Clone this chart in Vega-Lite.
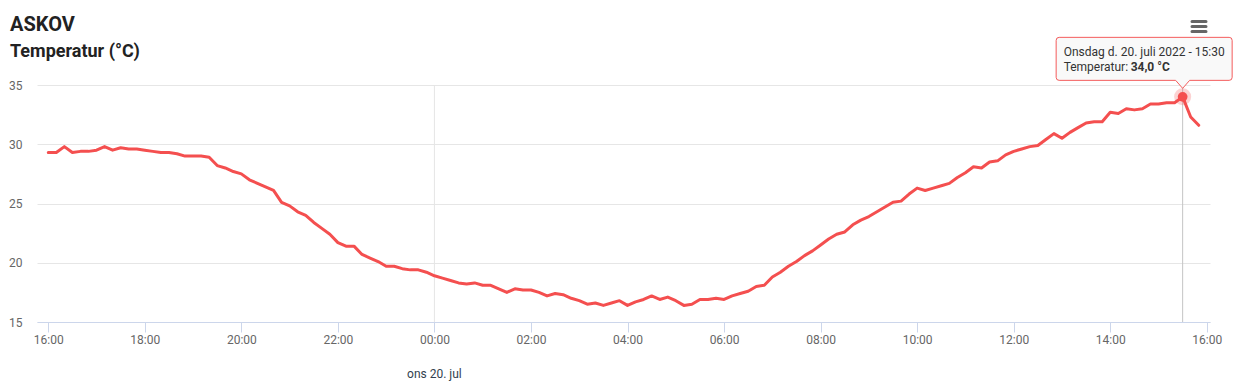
{
  "$schema": "https://vega.github.io/schema/vega-lite/v6.json",
  "width": 1173,
  "height": 237,
  "autosize": {"type": "none"},
  "padding": {"left": 37, "top": 85, "right": 27, "bottom": 67},
  "background": "#ffffff",
  "title": {
    "text": "ASKOV",
    "subtitle": "Temperatur (°C)",
    "anchor": "start",
    "frame": "group",
    "dx": -27,
    "offset": -41,
    "font": "Roboto",
    "fontSize": 20,
    "fontWeight": "bold",
    "color": "#222222",
    "subtitleFont": "Roboto",
    "subtitleFontSize": 18,
    "subtitleFontWeight": "bold",
    "subtitleColor": "#222222",
    "subtitlePadding": 8
  },
  "datasets": {
    "temps": [
      {"t": "2022-07-19T16:00", "temp": 29.3}, {"t": "2022-07-19T16:10", "temp": 29.3}, {"t": "2022-07-19T16:20", "temp": 29.8}, {"t": "2022-07-19T16:30", "temp": 29.3}, {"t": "2022-07-19T16:40", "temp": 29.4}, {"t": "2022-07-19T16:50", "temp": 29.4},
      {"t": "2022-07-19T17:00", "temp": 29.5}, {"t": "2022-07-19T17:10", "temp": 29.8}, {"t": "2022-07-19T17:20", "temp": 29.5}, {"t": "2022-07-19T17:30", "temp": 29.7}, {"t": "2022-07-19T17:40", "temp": 29.6}, {"t": "2022-07-19T17:50", "temp": 29.6},
      {"t": "2022-07-19T18:00", "temp": 29.5}, {"t": "2022-07-19T18:10", "temp": 29.4}, {"t": "2022-07-19T18:20", "temp": 29.3}, {"t": "2022-07-19T18:30", "temp": 29.3}, {"t": "2022-07-19T18:40", "temp": 29.2}, {"t": "2022-07-19T18:50", "temp": 29.0},
      {"t": "2022-07-19T19:00", "temp": 29.0}, {"t": "2022-07-19T19:10", "temp": 29.0}, {"t": "2022-07-19T19:20", "temp": 28.9}, {"t": "2022-07-19T19:30", "temp": 28.2}, {"t": "2022-07-19T19:40", "temp": 28.0}, {"t": "2022-07-19T19:50", "temp": 27.7},
      {"t": "2022-07-19T20:00", "temp": 27.5}, {"t": "2022-07-19T20:10", "temp": 27.0}, {"t": "2022-07-19T20:20", "temp": 26.7}, {"t": "2022-07-19T20:30", "temp": 26.4}, {"t": "2022-07-19T20:40", "temp": 26.1}, {"t": "2022-07-19T20:50", "temp": 25.1},
      {"t": "2022-07-19T21:00", "temp": 24.8}, {"t": "2022-07-19T21:10", "temp": 24.3}, {"t": "2022-07-19T21:20", "temp": 24.0}, {"t": "2022-07-19T21:30", "temp": 23.4}, {"t": "2022-07-19T21:40", "temp": 22.9}, {"t": "2022-07-19T21:50", "temp": 22.4},
      {"t": "2022-07-19T22:00", "temp": 21.7}, {"t": "2022-07-19T22:10", "temp": 21.4}, {"t": "2022-07-19T22:20", "temp": 21.4}, {"t": "2022-07-19T22:30", "temp": 20.7}, {"t": "2022-07-19T22:40", "temp": 20.4}, {"t": "2022-07-19T22:50", "temp": 20.1},
      {"t": "2022-07-19T23:00", "temp": 19.7}, {"t": "2022-07-19T23:10", "temp": 19.7}, {"t": "2022-07-19T23:20", "temp": 19.5}, {"t": "2022-07-19T23:30", "temp": 19.4}, {"t": "2022-07-19T23:40", "temp": 19.4}, {"t": "2022-07-19T23:50", "temp": 19.2},
      {"t": "2022-07-20T00:00", "temp": 18.9}, {"t": "2022-07-20T00:10", "temp": 18.7}, {"t": "2022-07-20T00:20", "temp": 18.5}, {"t": "2022-07-20T00:30", "temp": 18.3}, {"t": "2022-07-20T00:40", "temp": 18.2}, {"t": "2022-07-20T00:50", "temp": 18.3},
      {"t": "2022-07-20T01:00", "temp": 18.1}, {"t": "2022-07-20T01:10", "temp": 18.1}, {"t": "2022-07-20T01:20", "temp": 17.8}, {"t": "2022-07-20T01:30", "temp": 17.5}, {"t": "2022-07-20T01:40", "temp": 17.8}, {"t": "2022-07-20T01:50", "temp": 17.7},
      {"t": "2022-07-20T02:00", "temp": 17.7}, {"t": "2022-07-20T02:10", "temp": 17.5}, {"t": "2022-07-20T02:20", "temp": 17.2}, {"t": "2022-07-20T02:30", "temp": 17.4}, {"t": "2022-07-20T02:40", "temp": 17.3}, {"t": "2022-07-20T02:50", "temp": 17.0},
      {"t": "2022-07-20T03:00", "temp": 16.8}, {"t": "2022-07-20T03:10", "temp": 16.5}, {"t": "2022-07-20T03:20", "temp": 16.6}, {"t": "2022-07-20T03:30", "temp": 16.4}, {"t": "2022-07-20T03:40", "temp": 16.6}, {"t": "2022-07-20T03:50", "temp": 16.8},
      {"t": "2022-07-20T04:00", "temp": 16.4}, {"t": "2022-07-20T04:10", "temp": 16.7}, {"t": "2022-07-20T04:20", "temp": 16.9}, {"t": "2022-07-20T04:30", "temp": 17.2}, {"t": "2022-07-20T04:40", "temp": 16.9}, {"t": "2022-07-20T04:50", "temp": 17.1},
      {"t": "2022-07-20T05:00", "temp": 16.8}, {"t": "2022-07-20T05:10", "temp": 16.4}, {"t": "2022-07-20T05:20", "temp": 16.5}, {"t": "2022-07-20T05:30", "temp": 16.9}, {"t": "2022-07-20T05:40", "temp": 16.9}, {"t": "2022-07-20T05:50", "temp": 17.0},
      {"t": "2022-07-20T06:00", "temp": 16.9}, {"t": "2022-07-20T06:10", "temp": 17.2}, {"t": "2022-07-20T06:20", "temp": 17.4}, {"t": "2022-07-20T06:30", "temp": 17.6}, {"t": "2022-07-20T06:40", "temp": 18.0}, {"t": "2022-07-20T06:50", "temp": 18.1},
      {"t": "2022-07-20T07:00", "temp": 18.8}, {"t": "2022-07-20T07:10", "temp": 19.2}, {"t": "2022-07-20T07:20", "temp": 19.7}, {"t": "2022-07-20T07:30", "temp": 20.1}, {"t": "2022-07-20T07:40", "temp": 20.6}, {"t": "2022-07-20T07:50", "temp": 21.0},
      {"t": "2022-07-20T08:00", "temp": 21.5}, {"t": "2022-07-20T08:10", "temp": 22.0}, {"t": "2022-07-20T08:20", "temp": 22.4}, {"t": "2022-07-20T08:30", "temp": 22.6}, {"t": "2022-07-20T08:40", "temp": 23.2}, {"t": "2022-07-20T08:50", "temp": 23.6},
      {"t": "2022-07-20T09:00", "temp": 23.9}, {"t": "2022-07-20T09:10", "temp": 24.3}, {"t": "2022-07-20T09:20", "temp": 24.7}, {"t": "2022-07-20T09:30", "temp": 25.1}, {"t": "2022-07-20T09:40", "temp": 25.2}, {"t": "2022-07-20T09:50", "temp": 25.8},
      {"t": "2022-07-20T10:00", "temp": 26.3}, {"t": "2022-07-20T10:10", "temp": 26.1}, {"t": "2022-07-20T10:20", "temp": 26.3}, {"t": "2022-07-20T10:30", "temp": 26.5}, {"t": "2022-07-20T10:40", "temp": 26.7}, {"t": "2022-07-20T10:50", "temp": 27.2},
      {"t": "2022-07-20T11:00", "temp": 27.6}, {"t": "2022-07-20T11:10", "temp": 28.1}, {"t": "2022-07-20T11:20", "temp": 28.0}, {"t": "2022-07-20T11:30", "temp": 28.5}, {"t": "2022-07-20T11:40", "temp": 28.6}, {"t": "2022-07-20T11:50", "temp": 29.1},
      {"t": "2022-07-20T12:00", "temp": 29.4}, {"t": "2022-07-20T12:10", "temp": 29.6}, {"t": "2022-07-20T12:20", "temp": 29.8}, {"t": "2022-07-20T12:30", "temp": 29.9}, {"t": "2022-07-20T12:40", "temp": 30.4}, {"t": "2022-07-20T12:50", "temp": 30.9},
      {"t": "2022-07-20T13:00", "temp": 30.5}, {"t": "2022-07-20T13:10", "temp": 31.0}, {"t": "2022-07-20T13:20", "temp": 31.4}, {"t": "2022-07-20T13:30", "temp": 31.8}, {"t": "2022-07-20T13:40", "temp": 31.9}, {"t": "2022-07-20T13:50", "temp": 31.9},
      {"t": "2022-07-20T14:00", "temp": 32.7}, {"t": "2022-07-20T14:10", "temp": 32.6}, {"t": "2022-07-20T14:20", "temp": 33.0}, {"t": "2022-07-20T14:30", "temp": 32.9}, {"t": "2022-07-20T14:40", "temp": 33.0}, {"t": "2022-07-20T14:50", "temp": 33.4},
      {"t": "2022-07-20T15:00", "temp": 33.4}, {"t": "2022-07-20T15:10", "temp": 33.5}, {"t": "2022-07-20T15:20", "temp": 33.5}, {"t": "2022-07-20T15:30", "temp": 34.0}, {"t": "2022-07-20T15:40", "temp": 32.3}, {"t": "2022-07-20T15:50", "temp": 31.6}
    ],
    "hover": [
      {"t": "2022-07-20T15:30", "temp": 34.0, "line1": "Onsdag d. 20. juli 2022 - 15:30", "label": "Temperatur: ", "value": "34,0 °C"}
    ],
    "daymark": [
      {"t": "2022-07-20T00:00", "temp": 15, "day": "ons 20. jul"}
    ],
    "menu": [
      {"t": "2022-07-20T16:04", "temp": 35}
    ]
  },
  "layer": [
    {
      "data": {"name": "daymark"},
      "mark": {"type": "rule", "color": "#e6e6e6", "strokeWidth": 1},
      "encoding": {
        "x": {"field": "t", "type": "temporal"},
        "y": {"datum": 15, "type": "quantitative"},
        "y2": {"datum": 35}
      }
    },
    {
      "data": {"name": "hover"},
      "mark": {"type": "rule", "color": "#c4c4c4", "strokeWidth": 1},
      "encoding": {
        "x": {"field": "t", "type": "temporal"},
        "y": {"datum": 15, "type": "quantitative"},
        "y2": {"datum": 35}
      }
    },
    {
      "data": {"name": "temps"},
      "mark": {"type": "line", "color": "#f44f4f", "strokeWidth": 3, "strokeJoin": "round", "strokeCap": "round"},
      "encoding": {
        "x": {
          "field": "t",
          "type": "temporal",
          "scale": {"domain": [
            {"year": 2022, "month": 7, "date": 19, "hours": 15, "minutes": 46},
            {"year": 2022, "month": 7, "date": 20, "hours": 16, "minutes": 4}
          ]},
          "axis": {
            "title": null,
            "values": [
              {"year": 2022, "month": 7, "date": 19, "hours": 16},
              {"year": 2022, "month": 7, "date": 19, "hours": 18},
              {"year": 2022, "month": 7, "date": 19, "hours": 20},
              {"year": 2022, "month": 7, "date": 19, "hours": 22},
              {"year": 2022, "month": 7, "date": 20, "hours": 0},
              {"year": 2022, "month": 7, "date": 20, "hours": 2},
              {"year": 2022, "month": 7, "date": 20, "hours": 4},
              {"year": 2022, "month": 7, "date": 20, "hours": 6},
              {"year": 2022, "month": 7, "date": 20, "hours": 8},
              {"year": 2022, "month": 7, "date": 20, "hours": 10},
              {"year": 2022, "month": 7, "date": 20, "hours": 12},
              {"year": 2022, "month": 7, "date": 20, "hours": 14},
              {"year": 2022, "month": 7, "date": 20, "hours": 16}
            ],
            "format": "%H:%M",
            "grid": false,
            "domainColor": "#ccd6eb",
            "tickColor": "#ccd6eb",
            "tickSize": 10,
            "labelPadding": 2,
            "labelFont": "Roboto",
            "labelFontSize": 12,
            "labelColor": "#666666"
          }
        },
        "y": {
          "field": "temp",
          "type": "quantitative",
          "scale": {"domain": [15, 35], "nice": false, "zero": false},
          "axis": {
            "title": null,
            "values": [15, 20, 25, 30, 35],
            "grid": true,
            "gridColor": "#e6e6e6",
            "domain": false,
            "ticks": false,
            "tickSize": 0,
            "labelPadding": 15,
            "labelFont": "Roboto",
            "labelFontSize": 12,
            "labelColor": "#666666"
          }
        }
      }
    },
    {
      "data": {"name": "daymark"},
      "mark": {"type": "text", "align": "center", "baseline": "middle", "dy": 52, "font": "Roboto", "fontSize": 12, "color": "#333f4f"},
      "encoding": {
        "x": {"field": "t", "type": "temporal"},
        "y": {"field": "temp", "type": "quantitative"},
        "text": {"field": "day"}
      }
    },
    {
      "data": {"name": "menu"},
      "mark": {
        "type": "point",
        "filled": true,
        "color": "#666666",
        "opacity": 1,
        "strokeWidth": 0,
        "size": 4,
        "shape": "M -18 -65 L -4 -65 Q -2.5 -65 -2.5 -63.5 Q -2.5 -62 -4 -62 L -18 -62 Q -19.5 -62 -19.5 -63.5 Q -19.5 -65 -18 -65 Z M -18 -60 L -4 -60 Q -2.5 -60 -2.5 -58.5 Q -2.5 -57 -4 -57 L -18 -57 Q -19.5 -57 -19.5 -58.5 Q -19.5 -60 -18 -60 Z M -18 -55 L -4 -55 Q -2.5 -55 -2.5 -53.5 Q -2.5 -52 -4 -52 L -18 -52 Q -19.5 -52 -19.5 -53.5 Q -19.5 -55 -18 -55 Z"
      },
      "encoding": {
        "x": {"field": "t", "type": "temporal"},
        "y": {"field": "temp", "type": "quantitative"}
      }
    },
    {
      "data": {"name": "hover"},
      "mark": {"type": "point", "filled": true, "color": "#f44f4f", "opacity": 0.25, "size": 290},
      "encoding": {
        "x": {"field": "t", "type": "temporal"},
        "y": {"field": "temp", "type": "quantitative"}
      }
    },
    {
      "data": {"name": "hover"},
      "mark": {"type": "point", "filled": true, "color": "#f44f4f", "opacity": 1, "size": 95},
      "encoding": {
        "x": {"field": "t", "type": "temporal"},
        "y": {"field": "temp", "type": "quantitative"}
      }
    },
    {
      "data": {"name": "hover"},
      "mark": {
        "type": "point",
        "filled": true,
        "fill": "#f9f9f9",
        "fillOpacity": 0.95,
        "stroke": "#f45b5b",
        "strokeWidth": 1,
        "opacity": 1,
        "size": 4,
        "shape": "M -123.5 -59.5 L 46.5 -59.5 Q 49.5 -59.5 49.5 -56.5 L 49.5 -19.5 Q 49.5 -16.5 46.5 -16.5 L 7 -16.5 L 0 -8.5 L -7 -16.5 L -123.5 -16.5 Q -126.5 -16.5 -126.5 -19.5 L -126.5 -56.5 Q -126.5 -59.5 -123.5 -59.5 Z"
      },
      "encoding": {
        "x": {"field": "t", "type": "temporal"},
        "y": {"field": "temp", "type": "quantitative"}
      }
    },
    {
      "data": {"name": "hover"},
      "mark": {"type": "text", "align": "left", "baseline": "middle", "dx": -119, "dy": -44.5, "font": "Roboto", "fontSize": 12, "color": "#333333"},
      "encoding": {
        "x": {"field": "t", "type": "temporal"},
        "y": {"field": "temp", "type": "quantitative"},
        "text": {"field": "line1"}
      }
    },
    {
      "data": {"name": "hover"},
      "mark": {"type": "text", "align": "left", "baseline": "middle", "dx": -119, "dy": -29.5, "font": "Roboto", "fontSize": 12, "color": "#333333"},
      "encoding": {
        "x": {"field": "t", "type": "temporal"},
        "y": {"field": "temp", "type": "quantitative"},
        "text": {"field": "label"}
      }
    },
    {
      "data": {"name": "hover"},
      "mark": {"type": "text", "align": "left", "baseline": "middle", "dx": -52, "dy": -29.5, "font": "Roboto", "fontSize": 12, "fontWeight": "bold", "color": "#333333"},
      "encoding": {
        "x": {"field": "t", "type": "temporal"},
        "y": {"field": "temp", "type": "quantitative"},
        "text": {"field": "value"}
      }
    }
  ],
  "config": {
    "view": {"stroke": null},
    "font": "Roboto",
    "axis": {"title": null}
  }
}
